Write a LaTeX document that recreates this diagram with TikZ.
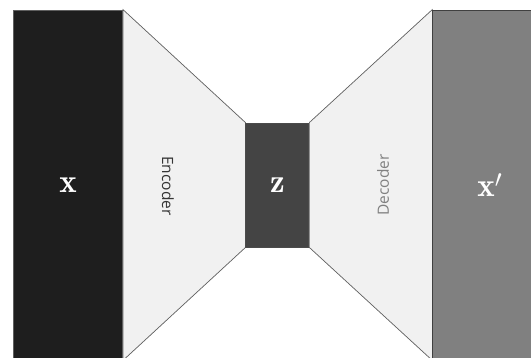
\documentclass[tikz,border=0pt]{standalone}
\usepackage{fontspec}
\newfontfamily\stagefont{Open Sans}
\usetikzlibrary{positioning, backgrounds}
\definecolor{aeblack}{RGB}{30, 30, 30}
\definecolor{aelight}{RGB}{241, 241, 241}
\definecolor{aedark}{RGB}{68, 68, 68}
\definecolor{aegray}{RGB}{128, 128, 128}
\definecolor{aeline}{RGB}{95, 95, 95}

\tikzset{
	layer/.style={draw=aeline, line width=0.9pt, inner sep=0pt, text=white,
		font=\fontsize{33}{38}\selectfont},
	funnel/.style={fill=aelight, draw=aeline, line width=0.7pt},
	stage/.style={font=\stagefont\fontsize{15.5}{18}\selectfont, inner sep=0pt}
}

\begin{document}
\begin{tikzpicture}[x=1pt,y=-1pt]
	\useasboundingbox (0,0) rectangle (531,357);
	\clip (0,0) rectangle (531,357);

	% input, code and output
	\node[layer, fill=aeblack, minimum width=109pt, minimum height=350pt] (xin) at (68,185) {$\mathbf{x}$};
	\node[layer, fill=aedark, draw=aeblack!80, minimum width=63pt, minimum height=124pt,
		right=122.5pt of xin] (zcode) {$\mathbf{z}$};
	\node[layer, fill=aegray, draw=aeblack!85, minimum width=114pt, minimum height=350pt,
		right=123pt of zcode] (xout) {$\mathbf{x}'$};

	\begin{scope}[on background layer]
		\draw[funnel] (xin.north east) -- (zcode.north west) -- (zcode.south west) -- (xin.south east) -- cycle;
		\draw[funnel] (zcode.north east) -- (xout.north west) -- (xout.south west) -- (zcode.south east) -- cycle;
	\end{scope}

	\node[stage, text=aeblack!90, rotate=-90] (enc) at (168,186) {Encoder};
	\node[stage, text=aegray, rotate=90] (dec) at (383,185) {Decoder};
\end{tikzpicture}
\end{document}
